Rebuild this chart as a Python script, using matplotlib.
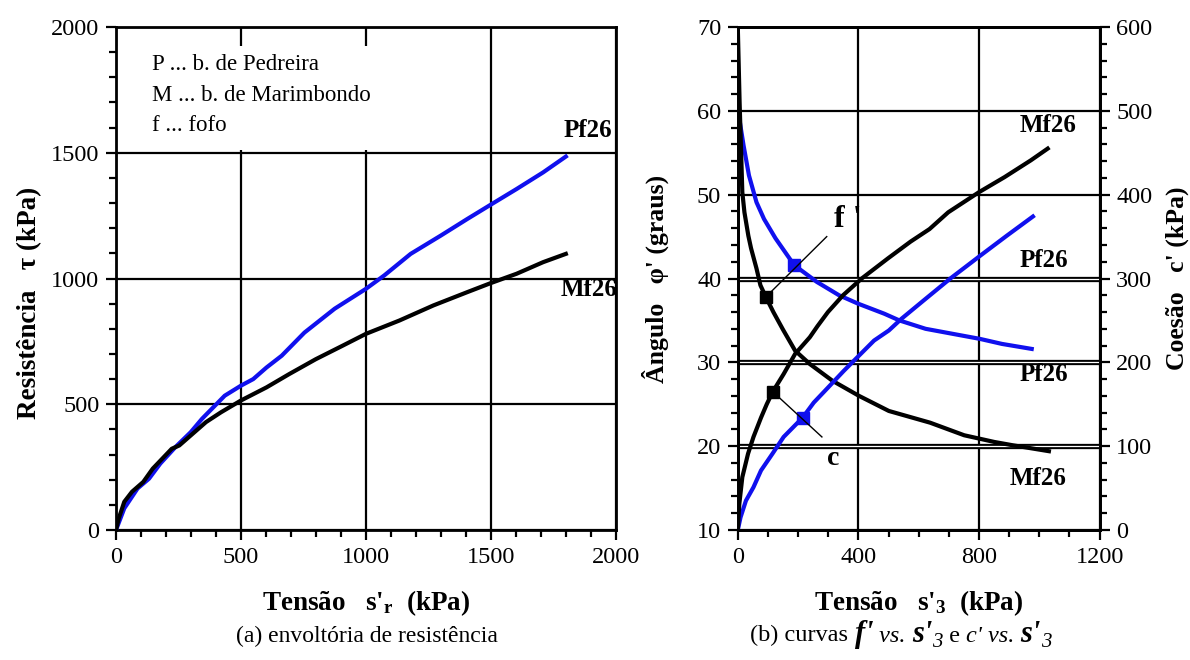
import matplotlib
matplotlib.use("Agg")
import matplotlib.pyplot as plt
from matplotlib.ticker import MultipleLocator
from matplotlib.patches import Rectangle
from matplotlib.transforms import offset_copy

plt.rcParams["font.family"] = ["Liberation Serif", "DejaVu Serif"]
plt.rcParams["mathtext.fontset"] = "custom"
plt.rcParams["mathtext.rm"] = "Liberation Serif"
plt.rcParams["mathtext.it"] = "Liberation Serif:italic"
plt.rcParams["mathtext.bf"] = "Liberation Serif:bold"

BLUE = "#1010ee"

# --- (a) strength envelope: normal stress s'r vs shear strength tau (kPa)
pf26_sig = [0, 33, 86, 132, 177, 238, 299, 344, 435, 500, 549, 602, 663, 754,
            875, 1000, 1073, 1179, 1300, 1406, 1500, 1603, 1709, 1800]
pf26_tau = [0, 86, 165, 204, 264, 330, 389, 442, 534, 574, 600, 646, 693, 785,
            880, 959, 1012, 1098, 1171, 1237, 1294, 1356, 1422, 1485]

mf26_sig = [0, 11, 33, 64, 109, 147, 223, 253, 299, 360, 420, 500, 602, 693,
            799, 905, 1000, 1134, 1270, 1406, 1500, 1603, 1709, 1800]
mf26_tau = [0, 46, 112, 152, 191, 244, 323, 336, 376, 429, 468, 515, 567, 620,
            679, 732, 780, 833, 893, 946, 982, 1019, 1065, 1098]

# --- (b) friction angle phi' (deg) and cohesion c' (kPa) vs s'3 (kPa)
pf26_phi_s3 = [0, 0, 19, 37, 62, 87, 125, 187, 262, 336, 399, 486, 536, 623,
               713, 803, 876, 975]
pf26_phi = [68.1, 60.2, 55.9, 52.3, 49.1, 47.1, 44.8, 41.6, 39.6, 38.0, 37.0,
            35.8, 35.0, 34.0, 33.4, 32.8, 32.2, 31.6]

mf26_phi_s3 = [0, 6, 15, 22, 35, 44, 62, 75, 93, 118, 150, 190, 239, 314, 402,
               501, 638, 751, 851, 913, 1032]
mf26_phi = [70.0, 61.0, 50.3, 47.9, 45.1, 43.6, 41.2, 39.2, 37.8, 36.0, 33.9,
            31.4, 29.8, 27.8, 26.0, 24.2, 22.8, 21.3, 20.5, 20.1, 19.4]

pf26_c_s3 = [0, 9, 27, 52, 77, 115, 152, 215, 252, 289, 352, 402, 452, 501,
             543, 617, 705, 807, 892, 979]
pf26_c = [0, 15, 35, 51, 71, 91, 111, 134, 152, 166, 190, 208, 226, 238, 252,
          274, 300, 328, 351, 374]

mf26_c_s3 = [0, 5, 15, 34, 52, 77, 96, 116, 152, 190, 239, 264, 299, 349, 411,
             498, 573, 636, 698, 800, 885, 972, 1028]
mf26_c = [0, 31, 63, 91, 111, 134, 150, 165, 186, 210, 230, 243, 260, 280, 300,
          324, 344, 359, 379, 403, 421, 441, 455]

# highlighted points on each curve (s'3, value)
mark_phi_m = (93, 37.8)
mark_phi_p = (187, 41.6)
mark_c_m = (116, 165)
mark_c_p = (215, 134)

fig = plt.figure(figsize=(11.9, 6.6), dpi=100)

TICK_FS = 17.5
CURVE_FS = 18


def style_axis(ax):
    for s in ax.spines.values():
        s.set_linewidth(2)
    ax.tick_params(which="major", direction="out", length=7, width=1.6,
                   labelsize=TICK_FS, pad=5)
    ax.tick_params(which="minor", direction="out", length=5, width=1.6)


# ---------------- panel (a)
axa = fig.add_axes([0.0975, 0.197, 0.420, 0.762])
axa.plot(pf26_sig, pf26_tau, color=BLUE, lw=3, zorder=3)
axa.plot(mf26_sig, mf26_tau, color="black", lw=3, zorder=3)
axa.set_xlim(0, 2000)
axa.set_ylim(0, 2000)
axa.xaxis.set_major_locator(MultipleLocator(500))
axa.xaxis.set_minor_locator(MultipleLocator(100))
axa.yaxis.set_major_locator(MultipleLocator(500))
axa.yaxis.set_minor_locator(MultipleLocator(100))
axa.grid(True, which="major", color="black", lw=1.6)
style_axis(axa)
axa.add_patch(Rectangle((5, 1512), 1455, 412, facecolor="white",
                        edgecolor="none", zorder=2))
for txt, yv in [("P ... b. de Pedreira", 1853), ("M ... b. de Marimbondo", 1726),
                ("f ... fofo", 1610)]:
    axa.text(144, yv, txt, fontsize=16.5, va="center", ha="left", zorder=4)
axa.text(1792, 1587, "Pf26", fontsize=CURVE_FS, fontweight="bold",
         va="center", ha="left", clip_on=False)
axa.text(1780, 958, "Mf26", fontsize=CURVE_FS, fontweight="bold",
         va="center", ha="left", clip_on=False)
axa.set_xlabel(r"Tensão   s'$_{\mathbf{r}}$  (kPa)", fontsize=19.5,
               fontweight="bold", va="center")
axa.xaxis.set_label_coords(0.5, -0.145)
axa.set_ylabel("Resistência   τ (kPa)", fontsize=19.5, fontweight="bold",
               va="center")
axa.yaxis.set_label_coords(-0.172, 0.451)
fig.text(0.308, 0.035, "(a) envoltória de resistência", fontsize=17,
         ha="center", va="center")

# ---------------- panel (b)
axb = fig.add_axes([0.620, 0.197, 0.304, 0.762])
axc = axb.twinx()
axb.set_xlim(0, 1200)
axb.set_ylim(10, 70)
axc.set_ylim(0, 600)
axb.xaxis.set_major_locator(MultipleLocator(400))
axb.xaxis.set_minor_locator(MultipleLocator(100))
axb.yaxis.set_major_locator(MultipleLocator(10))
axb.yaxis.set_minor_locator(MultipleLocator(2))
axc.yaxis.set_major_locator(MultipleLocator(100))
axc.yaxis.set_minor_locator(MultipleLocator(20))
axb.grid(True, which="major", color="black", lw=1.6)
style_axis(axb)
style_axis(axc)

# where the phi' and c' grids coincide the rules are drawn doubled
for yv in (20, 30, 40):
    axb.axhline(yv, color="black", lw=3.8, zorder=1.6)
    axb.axhline(yv, color="white", lw=0.9, zorder=1.7)

axb.plot(pf26_phi_s3, pf26_phi, color=BLUE, lw=3, zorder=3)
axb.plot(mf26_phi_s3, mf26_phi, color="black", lw=3, zorder=3)
axc.plot(pf26_c_s3, pf26_c, color=BLUE, lw=3, zorder=3)
axc.plot(mf26_c_s3, mf26_c, color="black", lw=3, zorder=3)

axb.plot(*mark_phi_m, marker="s", ms=9, color="black", zorder=4)
axb.plot(*mark_phi_p, marker="s", ms=9, color=BLUE, zorder=4)
axc.plot(*mark_c_m, marker="s", ms=9, color="black", zorder=4)
axc.plot(*mark_c_p, marker="s", ms=9, color=BLUE, zorder=4)

# leader lines for the phi' and c labels
axb.plot([mark_phi_m[0], 295], [mark_phi_m[1], 45.0], color="black", lw=1,
         zorder=4)
axc.plot([mark_c_m[0], 279], [mark_c_m[1], 111], color="black", lw=1, zorder=4)
axc.text(365, 370, "f '", fontsize=23, fontweight="bold", ha="center",
         va="center", zorder=5)
axc.text(317, 85, "c", fontsize=20, fontweight="bold", ha="center",
         va="center", zorder=5)

axb.text(1028, 58.2, "Mf26", fontsize=CURVE_FS, fontweight="bold",
         ha="center", va="center")
axb.text(1016, 42.2, "Pf26", fontsize=CURVE_FS, fontweight="bold",
         ha="center", va="center")
axb.text(1016, 28.6, "Pf26", fontsize=CURVE_FS, fontweight="bold",
         ha="center", va="center")
axb.text(997, 16.1, "Mf26", fontsize=CURVE_FS, fontweight="bold",
         ha="center", va="center")

axb.set_xlabel(r"Tensão   s'$_{\mathbf{3}}$  (kPa)", fontsize=19.5,
               fontweight="bold", va="center")
axb.xaxis.set_label_coords(0.5, -0.145)
axb.set_ylabel("Ângulo   φ' (graus)", fontsize=18.5, fontweight="bold",
               va="center")
axb.yaxis.set_label_coords(-0.229, 0.50)
axc.set_ylabel("Coesão   c' (kPa)", fontsize=18.5, fontweight="bold",
               va="center")
axc.yaxis.set_label_coords(1.215, 0.50)

# caption (b): mixed styles laid out piece by piece on a common baseline
cap_pieces = [
    ("(b) curvas ", dict(fontsize=17.5), 0),
    ("f'", dict(fontsize=22, fontweight="bold", style="italic"), 0),
    (" vs. ", dict(fontsize=17.5, style="italic"), 0),
    ("s'", dict(fontsize=22, fontweight="bold", style="italic"), 0),
    ("3", dict(fontsize=15, style="italic"), -4),
    (" e ", dict(fontsize=17.5), 0),
    ("c' vs. ", dict(fontsize=17.5, style="italic"), 0),
    ("s'", dict(fontsize=22, fontweight="bold", style="italic"), 0),
    ("3", dict(fontsize=15, style="italic"), -4),
]
cap_y = 0.028
renderer = fig.canvas.get_renderer()
cap_texts = []
for s, props, dy in cap_pieces:
    tr = offset_copy(fig.transFigure, fig=fig, x=0, y=dy, units="points")
    t = fig.text(0, cap_y, s, ha="left", va="baseline", transform=tr, **props)
    cap_texts.append(t)
widths = [t.get_window_extent(renderer).width / fig.bbox.width
          for t in cap_texts]
x = 0.757 - sum(widths) / 2
for t, w in zip(cap_texts, widths):
    t.set_x(x)
    x += w

fig.savefig("out.png", dpi=100)
